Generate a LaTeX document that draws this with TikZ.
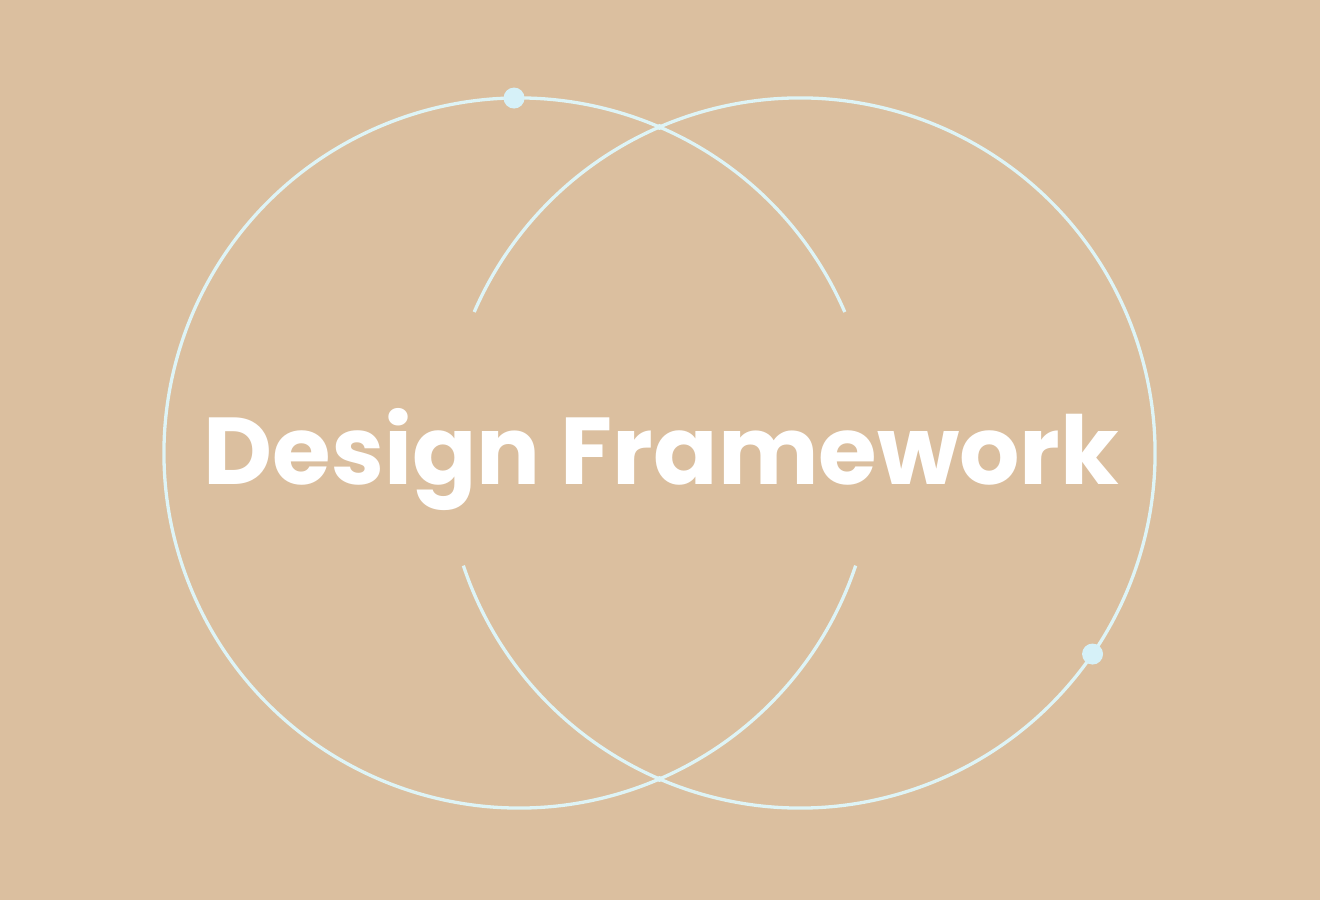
\documentclass[tikz,border=0pt]{standalone}
\usepackage{fontspec}
\setmainfont{Poppins}
\definecolor{bg}{RGB}{219,191,159}
\definecolor{ring}{RGB}{222,244,246}
\definecolor{dotc}{RGB}{214,241,248}
\tikzset{
  ringline/.style={draw=ring,line width=3.3pt},
  bigdot/.style={circle,fill=dotc,inner sep=0pt,minimum size=21pt},
  crossdot/.style={circle,fill=ring,inner sep=0pt,minimum size=6pt},
  title/.style={text=white,font=\fontsize{95}{100}\selectfont\bfseries,inner sep=0pt,anchor=base}
}
\begin{document}
\begin{tikzpicture}[x=1pt,y=1pt]
\useasboundingbox[fill=bg] (0,0) rectangle (1320,900);
\coordinate (cl) at (519,447);
\coordinate (cr) at (800,447);
% left ring, open on its right side
\draw[ringline] ([shift={(23.4:355)}]cl) arc[start angle=23.4,end angle=341.5,radius=355];
% right ring, open on its left side
\draw[ringline] ([shift={(198.5:355)}]cr) arc[start angle=198.5,end angle=516.6,radius=355];
\node[crossdot] (x1) at (659.5,773) {};
\node[crossdot] (x2) at (659.5,121) {};
\node[bigdot] (d1) at ([shift={(90.8:355)}]cl) {};
\node[bigdot] (d2) at ([shift={(-34.5:355)}]cr) {};
\node[title] (t) at (661.5,415) {Design Framework};
\end{tikzpicture}
\end{document}
